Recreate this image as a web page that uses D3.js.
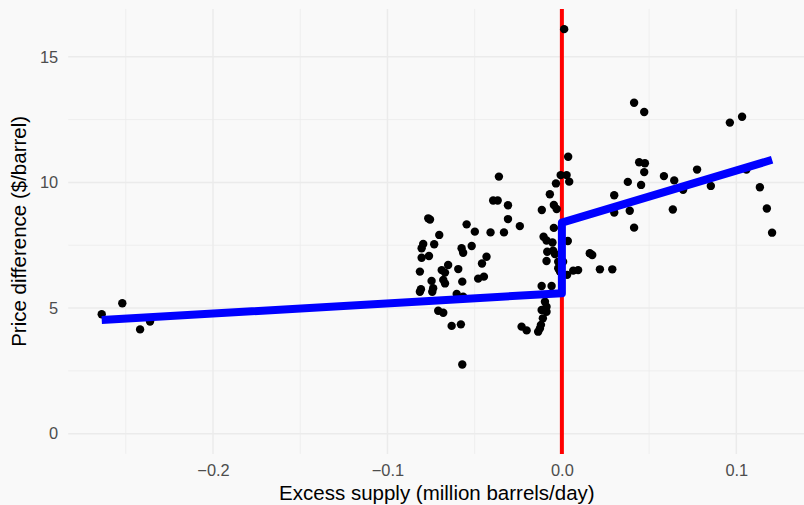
<!DOCTYPE html>
<html>
<head>
<meta charset="utf-8">
<script src="https://cdn.jsdelivr.net/npm/d3@7"></script>
<style>
  body { margin: 0; background: #f9f9f9; }
  svg { display: block; font-family: "Liberation Sans", Arial, sans-serif; }
</style>
</head>
<body>
<div id="chart"></div>
<script>
// excess supply (million barrels/day)
const supply = [
  -0.2638, -0.2520, -0.2418, -0.2361,
  -0.0766, -0.0756, -0.0546, -0.0499, -0.0703, -0.0795, -0.0804, -0.0732, -0.0804, -0.0762,
  -0.0575, -0.0566, -0.0517, -0.0652, -0.0689, -0.0670, -0.0814, -0.0594, -0.0680, -0.0670,
  -0.0747, -0.0738, -0.0808, -0.0814, -0.0743, -0.0571, -0.0480, -0.0447, -0.0458, -0.0432,
  -0.0603, -0.0566, -0.0709, -0.0680, -0.0632, -0.0579, -0.0571,
  -0.0361, -0.0394, -0.0368, -0.0309, -0.0309, -0.0241, -0.0409, -0.0332, -0.0231, -0.0202,
  -0.0115, -0.0069, -0.0034, -0.0007, 0.0027, 0.0036, 0.0042, 0.0013, -0.0046, -0.0030,
  -0.0046, -0.0105, -0.0088, -0.0054, 0.0034, -0.0084, -0.0050, -0.0040, -0.0088, -0.0021,
  0.0007, -0.0021, -0.0011, 0.0030, 0.0065, 0.0093, -0.0116, -0.0059, -0.0097, -0.0088,
  -0.0116, -0.0088, -0.0109, -0.0120, -0.0126, -0.0136, 0.0160, 0.0174, 0.0218, 0.0289,
  0.0300, 0.0300, 0.0378, 0.0389, 0.0414, 0.0454, 0.0443, 0.0476, 0.0472, 0.0414, 0.0472,
  0.0585, 0.0644, 0.0695, 0.0636, 0.0775, 0.0854, 0.0963, 0.1033, 0.1058, 0.1135, 0.1175, 0.1205
];
// price difference ($/barrel)
const price = [
  4.75, 5.19, 4.15, 4.46,
  8.57, 8.52, 8.33, 8.04, 7.91, 7.55, 7.38, 7.54, 7.00, 7.07,
  7.38, 7.20, 7.47, 6.71, 6.51, 6.41, 6.45, 6.55, 6.12, 5.98,
  6.08, 5.79, 5.75, 5.65, 5.65, 6.05, 6.17, 6.25, 6.77, 7.04,
  5.56, 5.45, 4.89, 4.81, 4.29, 4.35, 2.75,
  10.23, 9.28, 9.28, 9.09, 8.54, 8.26, 8.01, 8.01, 4.26, 4.11,
  8.90, 9.53, 9.96, 10.29, 10.29, 11.02, 10.03, 16.10, 9.10, 8.94,
  8.19, 7.84, 7.69, 7.61, 7.67, 7.24, 7.28, 7.15, 6.87, 6.84,
  6.84, 6.58, 6.45, 6.32, 6.49, 6.51, 5.88, 5.88, 5.25, 5.05,
  4.92, 4.85, 4.59, 4.33, 4.19, 4.06, 7.18, 7.11, 6.54, 6.54,
  9.49, 8.80, 10.02, 8.87, 8.20, 9.90, 10.80, 10.76, 10.41, 13.17, 12.80,
  10.25, 10.08, 9.71, 8.92, 10.51, 9.86, 12.38, 12.61, 10.51, 9.81, 8.96, 8.00
];

// fitted piecewise line (jump at 0)
const fitX = [-0.2638, 0, 0, 0.1205];
const fitY = [4.52, 5.59, 8.40, 10.90];

const xBreaks = [-0.2, -0.1, 0, 0.1];
const xMinor = [-0.25, -0.15, -0.05, 0.05];
const xLabels = ["\u22120.2", "\u22120.1", "0.0", "0.1"];
const yBreaks = [0, 5, 10, 15];
const yMinor = [2.5, 7.5, 12.5];
const yLabels = ["0", "5", "10", "15"];

const width = 804, height = 505;
const panel = {left: 68.2, right: 805.6, top: 8.9, bottom: 453.9};

const data = supply.map((d, i) => ({x: d, y: price[i]}));
const fit = fitX.map((d, i) => ({x: d, y: fitY[i]}));

// ggplot-like 5% expansion
const xr = d3.extent(supply), xpad = (xr[1] - xr[0]) * 0.05;
const yMax = d3.max(price), ypad = yMax * 0.05;

const x = d3.scaleLinear()
  .domain([xr[0] - xpad, xr[1] + xpad])
  .range([panel.left, panel.right]);

const y = d3.scaleLinear()
  .domain([0 - ypad, yMax + ypad])
  .range([panel.bottom, panel.top]);

const svg = d3.select("#chart").append("svg")
  .attr("width", width)
  .attr("height", height);

svg.append("rect")
  .attr("width", width).attr("height", height)
  .attr("fill", "#f9f9f9");

const grid = svg.append("g").attr("stroke", "#ebebeb").attr("fill", "none");

grid.selectAll(".ymin").data(yMinor).join("line")
  .attr("x1", panel.left).attr("x2", panel.right)
  .attr("y1", d => y(d)).attr("y2", d => y(d))
  .attr("stroke-width", 0.75);
grid.selectAll(".xmin").data(xMinor).join("line")
  .attr("y1", panel.top).attr("y2", panel.bottom)
  .attr("x1", d => x(d)).attr("x2", d => x(d))
  .attr("stroke-width", 0.75);
grid.selectAll(".ymaj").data(yBreaks).join("line")
  .attr("x1", panel.left).attr("x2", panel.right)
  .attr("y1", d => y(d)).attr("y2", d => y(d))
  .attr("stroke-width", 1.5);
grid.selectAll(".xmaj").data(xBreaks).join("line")
  .attr("y1", panel.top).attr("y2", panel.bottom)
  .attr("x1", d => x(d)).attr("x2", d => x(d))
  .attr("stroke-width", 1.5);

// vertical reference line at zero
svg.append("line")
  .attr("x1", x(0)).attr("x2", x(0))
  .attr("y1", panel.top).attr("y2", panel.bottom)
  .attr("stroke", "#ff0000")
  .attr("stroke-width", 4);

svg.append("g")
  .selectAll("circle")
  .data(data)
  .join("circle")
  .attr("cx", d => x(d.x))
  .attr("cy", d => y(d.y))
  .attr("r", 4.2)
  .attr("fill", "#000");

const line = d3.line().x(d => x(d.x)).y(d => y(d.y));
svg.append("path")
  .datum(fit)
  .attr("d", line)
  .attr("fill", "none")
  .attr("stroke", "#0000ff")
  .attr("stroke-width", 8)
  .attr("stroke-linejoin", "round");

const xAxis = g => g
  .attr("transform", `translate(0, ${panel.bottom})`)
  .call(d3.axisBottom(x).tickValues(xBreaks).tickSize(0).tickPadding(10)
    .tickFormat((d, i) => xLabels[i]))
  .call(g => g.select(".domain").remove());

const yAxis = g => g
  .attr("transform", `translate(${panel.left}, 0)`)
  .call(d3.axisLeft(y).tickValues(yBreaks).tickSize(0).tickPadding(10)
    .tickFormat((d, i) => yLabels[i]))
  .call(g => g.select(".domain").remove());

svg.append("g").call(xAxis);
svg.append("g").call(yAxis);

svg.selectAll(".tick text")
  .attr("fill", "#4d4d4d")
  .style("font-size", "16.4px")
  .style("font-family", "'Liberation Sans', Arial, sans-serif");

svg.append("text")
  .attr("x", (panel.left + panel.right) / 2)
  .attr("y", 500)
  .attr("text-anchor", "middle")
  .attr("fill", "#000")
  .style("font-size", "20.5px")
  .text("Excess supply (million barrels/day)");

svg.append("text")
  .attr("transform", `translate(25.5, ${(panel.top + panel.bottom) / 2}) rotate(-90)`)
  .attr("text-anchor", "middle")
  .attr("fill", "#000")
  .style("font-size", "20.5px")
  .text("Price difference ($/barrel)");
</script>
</body>
</html>
